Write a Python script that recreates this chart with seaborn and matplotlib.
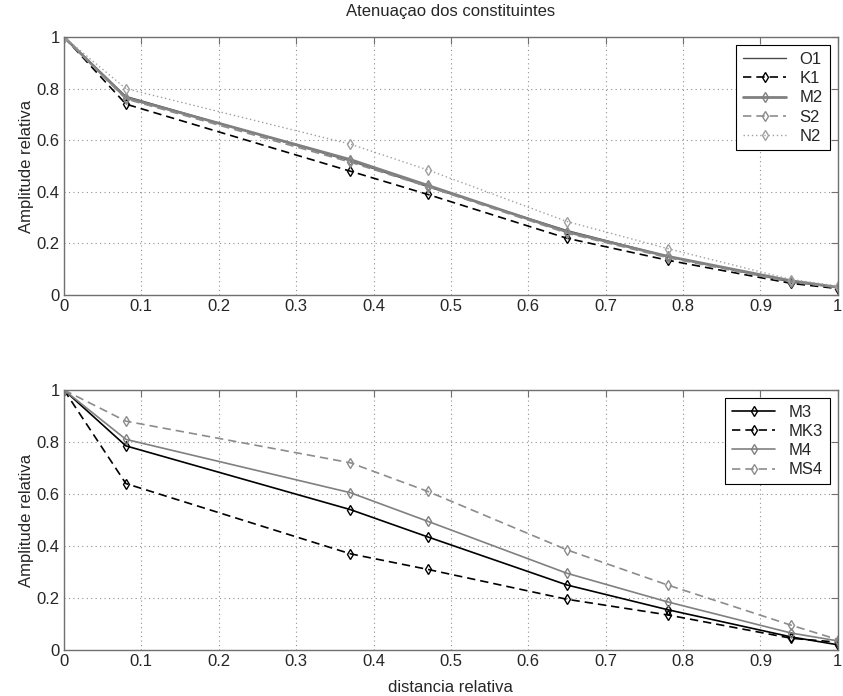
import numpy as np
import pandas as pd
import seaborn as sns
import matplotlib
matplotlib.use("Agg")
import matplotlib.pyplot as plt

# Relative distance along the estuary
distancia = [0.0, 0.08, 0.37, 0.47, 0.65, 0.78, 0.94, 1.0]

# Diurnal / semidiurnal constituents
O1 = [1.0, 0.770, 0.520, 0.420, 0.250, 0.150, 0.050, 0.030]
K1 = [1.0, 0.740, 0.480, 0.390, 0.220, 0.135, 0.045, 0.025]
M2 = [1.0, 0.765, 0.525, 0.425, 0.245, 0.150, 0.055, 0.030]
S2 = [1.0, 0.760, 0.515, 0.420, 0.240, 0.145, 0.050, 0.030]
N2 = [1.0, 0.800, 0.585, 0.485, 0.285, 0.180, 0.060, 0.035]

# Higher harmonics
M3 = [1.0, 0.785, 0.540, 0.435, 0.250, 0.155, 0.050, 0.020]
MK3 = [1.0, 0.640, 0.370, 0.310, 0.195, 0.135, 0.045, 0.030]
M4 = [1.0, 0.810, 0.605, 0.495, 0.295, 0.185, 0.065, 0.035]
MS4 = [1.0, 0.880, 0.720, 0.610, 0.385, 0.250, 0.095, 0.040]

x_ticks = ["0", "0.1", "0.2", "0.3", "0.4", "0.5", "0.6", "0.7", "0.8", "0.9", "1"]
y_ticks = ["0", "0.2", "0.4", "0.6", "0.8", "1"]

top_series = [
    ("O1", O1, "#4a4a4a", "-", None, 1.0),
    ("K1", K1, "#000000", (0, (5, 3)), "d", 1.2),
    ("M2", M2, "#808080", "-", "d", 2.0),
    ("S2", S2, "#8c8c8c", (0, (5, 3)), "d", 1.2),
    ("N2", N2, "#a0a0a0", (0, (1, 2)), "d", 1.0),
]
bottom_series = [
    ("M3", M3, "#000000", "-", "d", 1.2),
    ("MK3", MK3, "#000000", (0, (5, 3)), "d", 1.2),
    ("M4", M4, "#808080", "-", "d", 1.2),
    ("MS4", MS4, "#8c8c8c", (0, (5, 3)), "d", 1.2),
]

sns.set_style("white")
plt.rcParams["font.family"] = ["Liberation Sans", "DejaVu Sans"]
plt.rcParams["font.size"] = 12

fig = plt.figure(figsize=(8.43, 6.96), dpi=100)
ax1 = fig.add_axes([0.0759, 0.5761, 0.918, 0.3707])
ax2 = fig.add_axes([0.0759, 0.0661, 0.918, 0.3736])


def draw(ax, series):
    for name, vals, color, ls, marker, lw in series:
        df = pd.DataFrame({"distancia": distancia, "amp": vals})
        kw = dict(marker=marker, markersize=5, markerfacecolor="none",
                  markeredgecolor=color, markeredgewidth=1.0) if marker else {}
        sns.lineplot(data=df, x="distancia", y="amp", ax=ax, color=color,
                     linestyle=ls, linewidth=lw, label=name, **kw)
    ax.set_xlim(0, 1)
    ax.set_ylim(0, 1)
    ax.set_xticks(np.linspace(0, 1, len(x_ticks)))
    ax.set_xticklabels(x_ticks)
    ax.set_yticks(np.linspace(0, 1, len(y_ticks)))
    ax.set_yticklabels(y_ticks)
    ax.grid(True, color="#909090", linestyle=(0, (1, 3)), linewidth=0.8)
    ax.tick_params(direction="in", length=5, color="#707070",
                   top=True, right=True, labelsize=12, pad=3)
    for sp in ax.spines.values():
        sp.set_color("#707070")
        sp.set_linewidth(1.0)
    ax.set_ylabel("Amplitude relativa", fontsize=12, labelpad=2)
    leg = ax.legend(loc="upper right", frameon=True, fancybox=False,
                    fontsize=12, handlelength=2.6, borderaxespad=0.5,
                    labelspacing=0.25, handletextpad=0.8, borderpad=0.4)
    leg.get_frame().set_edgecolor("#000000")
    leg.get_frame().set_linewidth(0.8)
    leg.get_frame().set_alpha(1.0)


draw(ax1, top_series)
draw(ax2, bottom_series)
ax1.set_xlabel("")
ax2.set_xlabel("distancia relativa", fontsize=12, labelpad=8)
ax1.set_title("Atenuaçao dos constituintes", fontsize=12, pad=15)

fig.savefig("out.png", dpi=100)
